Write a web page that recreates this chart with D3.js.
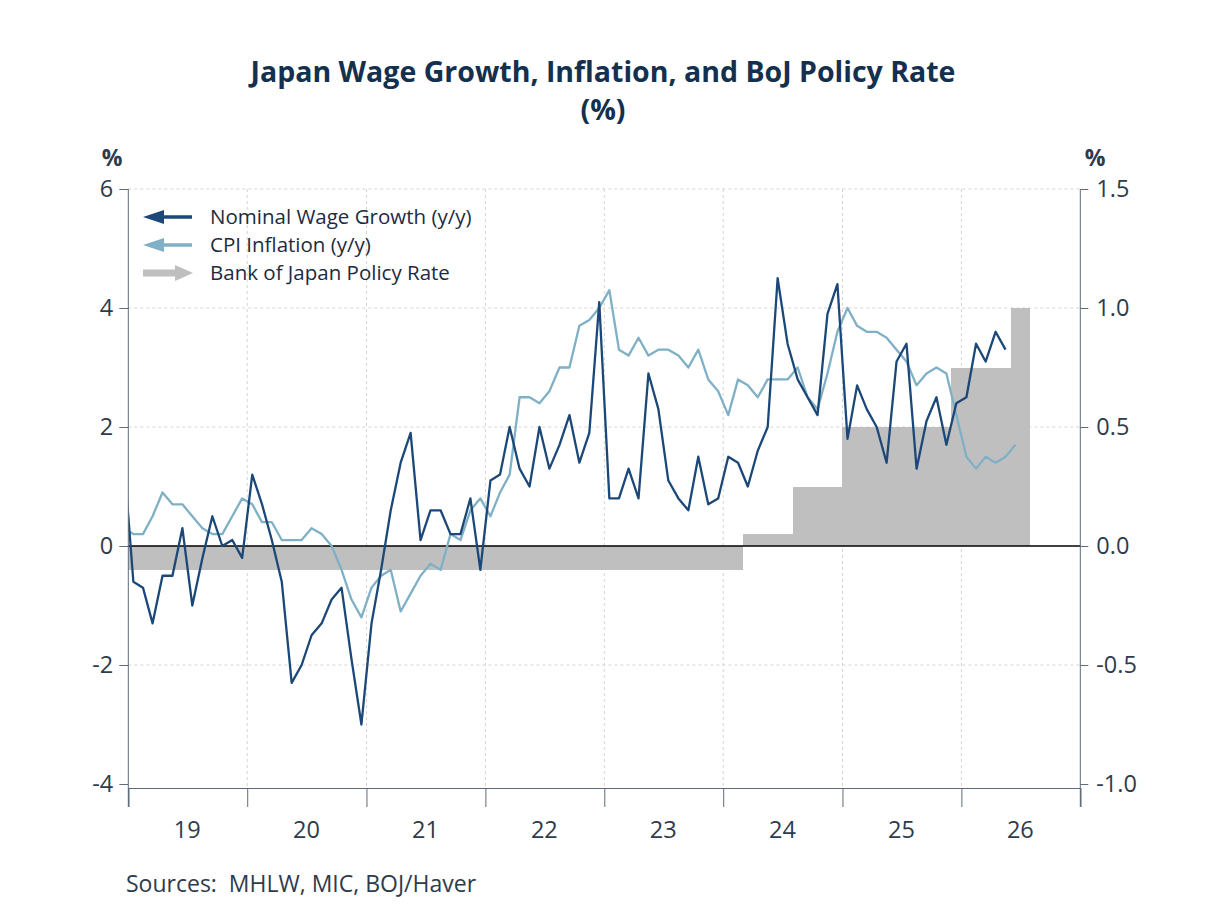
<!DOCTYPE html>
<html>
<head>
<meta charset="utf-8">
<script src="https://cdn.jsdelivr.net/npm/d3@7"></script>
<style>
body { margin: 0; background: #fff; }
svg { font-family: "Open Sans", "Noto Sans", sans-serif; }
</style>
</head>
<body>
<div id="chart"></div>
<script>
"use strict";

// monthly series, first value = firstMonth
var firstMonth = "2018-12";
var wage = [1.6,
    -0.6, -0.7, -1.3, -0.5, -0.5, 0.3, -1.0, -0.2, 0.5, 0.0, 0.1, -0.2,
    1.2, 0.7, 0.1, -0.6, -2.3, -2.0, -1.5, -1.3, -0.9, -0.7, -1.9, -3.0,
    -1.3, -0.4, 0.6, 1.4, 1.9, 0.1, 0.6, 0.6, 0.2, 0.2, 0.8, -0.4,
    1.1, 1.2, 2.0, 1.3, 1.0, 2.0, 1.3, 1.7, 2.2, 1.4, 1.9, 4.1,
    0.8, 0.8, 1.3, 0.8, 2.9, 2.3, 1.1, 0.8, 0.6, 1.5, 0.7, 0.8,
    1.5, 1.4, 1.0, 1.6, 2.0, 4.5, 3.4, 2.8, 2.5, 2.2, 3.9, 4.4,
    1.8, 2.7, 2.3, 2.0, 1.4, 3.1, 3.4, 1.3, 2.1, 2.5, 1.7, 2.4,
    2.5, 3.4, 3.1, 3.6, 3.3];
var cpi = [0.3,
    0.2, 0.2, 0.5, 0.9, 0.7, 0.7, 0.5, 0.3, 0.2, 0.2, 0.5, 0.8,
    0.7, 0.4, 0.4, 0.1, 0.1, 0.1, 0.3, 0.2, 0.0, -0.4, -0.9, -1.2,
    -0.7, -0.5, -0.4, -1.1, -0.8, -0.5, -0.3, -0.4, 0.2, 0.1, 0.6, 0.8,
    0.5, 0.9, 1.2, 2.5, 2.5, 2.4, 2.6, 3.0, 3.0, 3.7, 3.8, 4.0,
    4.3, 3.3, 3.2, 3.5, 3.2, 3.3, 3.3, 3.2, 3.0, 3.3, 2.8, 2.6,
    2.2, 2.8, 2.7, 2.5, 2.8, 2.8, 2.8, 3.0, 2.5, 2.3, 2.9, 3.6,
    4.0, 3.7, 3.6, 3.6, 3.5, 3.3, 3.1, 2.7, 2.9, 3.0, 2.9, 2.2,
    1.5, 1.3, 1.5, 1.4, 1.5, 1.7];

// BoJ policy rate, monthly from rateStart
var rateStart = "2019-01";
var policyRate = [
    -0.1, -0.1, -0.1, -0.1, -0.1, -0.1, -0.1, -0.1, -0.1, -0.1, -0.1, -0.1,
    -0.1, -0.1, -0.1, -0.1, -0.1, -0.1, -0.1, -0.1, -0.1, -0.1, -0.1, -0.1,
    -0.1, -0.1, -0.1, -0.1, -0.1, -0.1, -0.1, -0.1, -0.1, -0.1, -0.1, -0.1,
    -0.1, -0.1, -0.1, -0.1, -0.1, -0.1, -0.1, -0.1, -0.1, -0.1, -0.1, -0.1,
    -0.1, -0.1, -0.1, -0.1, -0.1, -0.1, -0.1, -0.1, -0.1, -0.1, -0.1, -0.1,
    -0.1, -0.1, 0.05, 0.05, 0.05, 0.05, 0.05, 0.25, 0.25, 0.25, 0.25, 0.25,
    0.5, 0.5, 0.5, 0.5, 0.5, 0.5, 0.5, 0.5, 0.5, 0.5, 0.5, 0.75,
    0.75, 0.75, 0.75, 0.75, 0.75, 1.0, 1.0];

var yearLabels = ["19", "20", "21", "22", "23", "24", "25", "26"];
var leftTicks = [-4, -2, 0, 2, 4, 6];
var rightTicks = [-1.0, -0.5, 0.0, 0.5, 1.0, 1.5];

var seriesNames = ["Nominal Wage Growth (y/y)", "CPI Inflation (y/y)", "Bank of Japan Policy Rate"];
var colors = ["#1b4878", "#7fb0c6", "#bfbfbf"];
var textColor = "#2e3b4c";

var W = 1208, H = 906;
var plotLeft = 128.3, plotRight = 1080.3, plotTop = 189, plotBottom = 784, axisY = 788;

var parseMonth = d3.timeParse("%Y-%m");
function toSeries(start, values) {
    var t0 = parseMonth(start);
    return values.map(function(v, i) {
        return { date: d3.timeMonth.offset(t0, i), value: v };
    });
}
var wageData = toSeries(firstMonth, wage),
    cpiData = toSeries(firstMonth, cpi),
    rateData = toSeries(rateStart, policyRate);

var x = d3.scaleTime()
    .domain([new Date(2019, 0, 1), new Date(2027, 0, 1)])
    .range([plotLeft, plotRight]);
var yL = d3.scaleLinear().domain([-4, 6]).range([plotBottom, plotTop]);
var yR = d3.scaleLinear().domain([-1, 1.5]).range([plotBottom, plotTop]);

function midMonth(d) {
    return (x(d) + x(d3.timeMonth.offset(d, 1))) / 2;
}

var svg = d3.select("#chart").append("svg")
    .attr("width", W).attr("height", H);

svg.append("defs").append("clipPath").attr("id", "plot")
    .append("rect").attr("x", plotLeft).attr("y", plotTop - 5)
    .attr("width", plotRight - plotLeft).attr("height", axisY - plotTop + 5);

// title
svg.append("text")
    .attr("x", 603).attr("y", 82)
    .attr("text-anchor", "middle")
    .attr("font-size", 28.5).attr("font-weight", "bold")
    .attr("fill", "#14304f")
    .text("Japan Wage Growth, Inflation, and BoJ Policy Rate");
svg.append("text")
    .attr("x", 603).attr("y", 120)
    .attr("text-anchor", "middle")
    .attr("font-size", 28.5).attr("font-weight", "bold")
    .attr("fill", "#14304f")
    .text("(%)");

// grid
var years = d3.timeYear.range(new Date(2019, 0, 1), new Date(2027, 0, 2));
svg.append("g").selectAll("line")
    .data(leftTicks.filter(t => t !== 0 && t !== -4))
    .enter().append("line")
    .attr("x1", plotLeft).attr("x2", plotRight)
    .attr("y1", d => yL(d)).attr("y2", d => yL(d))
    .attr("stroke", "#d4d4d4").attr("stroke-dasharray", "3,3");
svg.append("g").selectAll("line")
    .data(years.slice(1, -1))
    .enter().append("line")
    .attr("x1", d => x(d)).attr("x2", d => x(d))
    .attr("y1", plotTop).attr("y2", axisY)
    .attr("stroke", "#d4d4d4").attr("stroke-dasharray", "3,3");

// policy rate bars
svg.append("g").attr("clip-path", "url(#plot)")
    .selectAll("rect")
    .data(rateData)
    .enter().append("rect")
    .attr("x", d => x(d.date))
    .attr("width", d => x(d3.timeMonth.offset(d.date, 1)) - x(d.date))
    .attr("y", d => Math.min(yR(d.value), yR(0)))
    .attr("height", d => Math.abs(yR(d.value) - yR(0)))
    .attr("fill", colors[2])
    .attr("shape-rendering", "crispEdges");

// zero line
svg.append("line")
    .attr("x1", plotLeft).attr("x2", plotRight)
    .attr("y1", yL(0)).attr("y2", yL(0))
    .attr("stroke", "#000").attr("stroke-width", 1.3);

// lines
var line = d3.line()
    .x(d => midMonth(d.date))
    .y(d => yL(d.value));
var lines = svg.append("g").attr("clip-path", "url(#plot)");
lines.append("path").datum(cpiData)
    .attr("d", line).attr("fill", "none")
    .attr("stroke", colors[1]).attr("stroke-width", 2.3)
    .attr("stroke-linejoin", "round");
lines.append("path").datum(wageData)
    .attr("d", line).attr("fill", "none")
    .attr("stroke", colors[0]).attr("stroke-width", 2.3)
    .attr("stroke-linejoin", "round");

// axes
var axisColor = "#5d6b7c";
var fmtL = d => String(d);            // plain hyphen like the reference
var fmtR = d => d3.format(".1f")(d).replace("\u2212", "-");
var gl = svg.append("g")
    .attr("transform", "translate(" + plotLeft + ",0)")
    .call(d3.axisLeft(yL).tickValues(leftTicks).tickSize(9).tickPadding(6)
        .tickFormat(fmtL));
var gr = svg.append("g")
    .attr("transform", "translate(" + plotRight + ",0)")
    .call(d3.axisRight(yR).tickValues(rightTicks).tickSize(8).tickPadding(8)
        .tickFormat(fmtR));
[gl, gr].forEach(function(g) {
    g.select(".domain").remove();
    g.selectAll(".tick line").attr("stroke", axisColor);
    g.selectAll(".tick text").attr("fill", textColor).attr("font-size", 23.5)
        .attr("font-family", "\"Open Sans\", sans-serif");
});
svg.append("line").attr("x1", plotLeft).attr("x2", plotLeft)
    .attr("y1", plotTop).attr("y2", 807).attr("stroke", axisColor);
svg.append("line").attr("x1", plotRight).attr("x2", plotRight)
    .attr("y1", plotTop).attr("y2", 807).attr("stroke", axisColor);

var gx = svg.append("g")
    .attr("transform", "translate(0," + axisY + ")")
    .call(d3.axisBottom(x).tickValues(years).tickSize(19).tickFormat(""));
gx.select(".domain").attr("stroke", axisColor);
gx.selectAll(".tick line").attr("stroke", axisColor);

svg.append("g").selectAll("text")
    .data(yearLabels)
    .enter().append("text")
    .attr("x", (d, i) => x(new Date(2019 + i, 6, 1)))
    .attr("y", 838)
    .attr("text-anchor", "middle")
    .attr("font-size", 23.5).attr("fill", textColor)
    .text(d => d);

// unit labels
svg.append("text").attr("x", 112).attr("y", 166).attr("text-anchor", "middle")
    .attr("font-size", 23).attr("font-weight", "bold").attr("fill", textColor).text("%");
svg.append("text").attr("x", 1095).attr("y", 166).attr("text-anchor", "middle")
    .attr("font-size", 23).attr("font-weight", "bold").attr("fill", textColor).text("%");

// legend
var legendY = [217, 245, 273];
var lg = svg.append("g");
[0, 1].forEach(function(i) {
    var yy = legendY[i];
    lg.append("line").attr("x1", 160).attr("x2", 192)
        .attr("y1", yy).attr("y2", yy)
        .attr("stroke", colors[i]).attr("stroke-width", 3.5);
    lg.append("path")
        .attr("d", "M143," + yy + "L164," + (yy - 7) + "L164," + (yy + 7) + "Z")
        .attr("fill", colors[i]);
});
lg.append("line").attr("x1", 143).attr("x2", 177)
    .attr("y1", legendY[2]).attr("y2", legendY[2])
    .attr("stroke", colors[2]).attr("stroke-width", 7);
lg.append("path")
    .attr("d", "M175," + (legendY[2] - 8) + "L193," + legendY[2] + "L175," + (legendY[2] + 8) + "Z")
    .attr("fill", colors[2]);
lg.selectAll("text")
    .data(seriesNames)
    .enter().append("text")
    .attr("x", 210)
    .attr("y", (d, i) => legendY[i] + 7)
    .attr("font-size", 20.5).attr("fill", "#1d2b40")
    .text(d => d);

// source
svg.append("text")
    .attr("x", 126).attr("y", 892)
    .attr("font-size", 23).attr("fill", textColor)
    .attr("xml:space", "preserve")
    .style("white-space", "pre")
    .text("Sources:  MHLW, MIC, BOJ/Haver");
</script>
</body>
</html>
